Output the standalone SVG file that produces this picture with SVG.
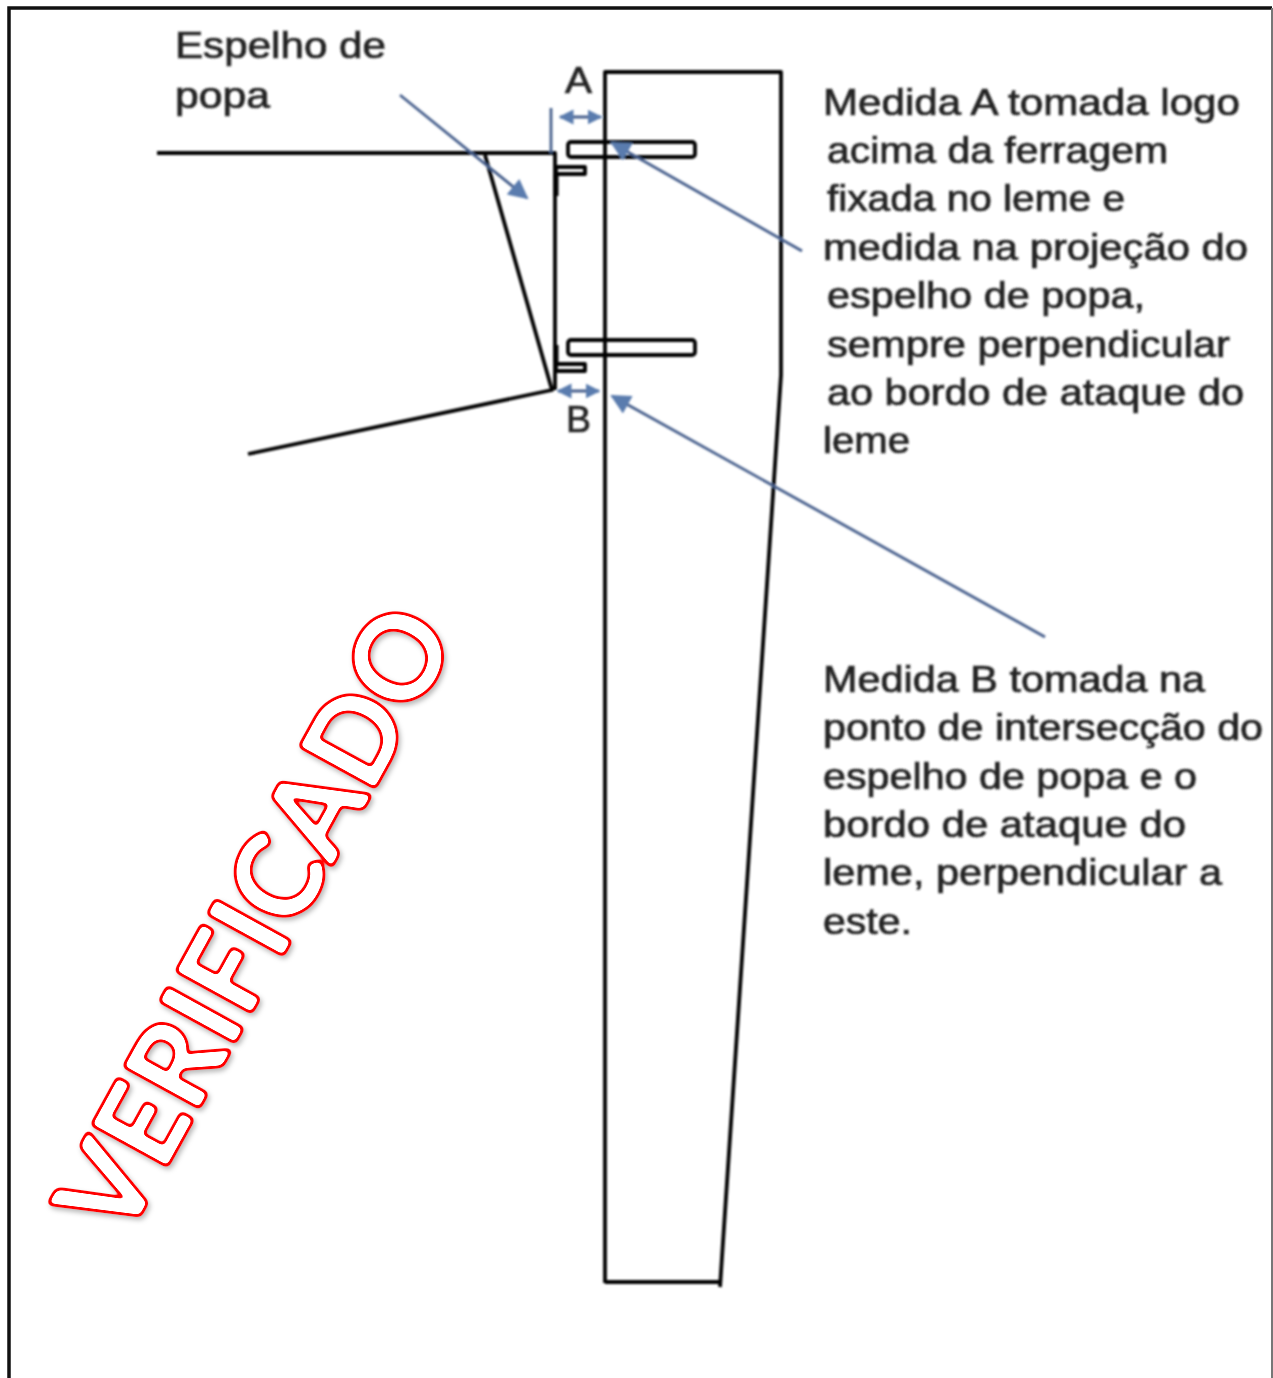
<svg xmlns="http://www.w3.org/2000/svg" width="1273" height="1378" viewBox="0 0 1273 1378">
<style>
.k{fill:none;stroke:#000;stroke-width:3.8;stroke-linejoin:round}
.b{fill:none;stroke:#465f8c;stroke-width:2.8}
.t{font-family:"Liberation Sans",Arial,sans-serif;font-size:37px;fill:#222;stroke:#222;stroke-width:.7}
.s{font-family:"Lato","Open Sans",sans-serif;font-size:118px;font-weight:700;fill:#000}
</style>
<defs>
<filter id="soft" x="-5%" y="-5%" width="110%" height="110%"><feGaussianBlur stdDeviation="0.9"/></filter>
<filter id="stampfx" filterUnits="userSpaceOnUse" x="0" y="560" width="500" height="720" color-interpolation-filters="sRGB">
<feGaussianBlur in="SourceAlpha" stdDeviation="2.5" result="b"/>
<feComponentTransfer in="b" result="inner"><feFuncA type="linear" slope="10" intercept="-5"/></feComponentTransfer>
<feComponentTransfer in="b" result="outer"><feFuncA type="linear" slope="10" intercept="-1.2"/></feComponentTransfer>
<feGaussianBlur in="outer" stdDeviation="2.5" result="sb"/>
<feOffset in="sb" dx="2" dy="3" result="so"/>
<feFlood flood-color="#000" flood-opacity=".28"/><feComposite in2="so" operator="in" result="shadow"/>
<feFlood flood-color="#fff"/><feComposite in2="outer" operator="in" result="white"/>
<feFlood flood-color="#f00"/><feComposite in2="outer" operator="in" result="red"/>
<feComposite in="red" in2="inner" operator="out" result="ring"/>
<feMerge><feMergeNode in="shadow"/><feMergeNode in="white"/><feMergeNode in="ring"/></feMerge>
</filter>
<marker id="ahl" viewBox="0 0 10 10" refX="9" refY="5" markerWidth="24" markerHeight="20" markerUnits="userSpaceOnUse" orient="auto-start-reverse"><path d="M0 0L10 5L0 10Z" fill="#5a7cae"/></marker>
<marker id="ahm" viewBox="0 0 10 10" refX="9" refY="5" markerWidth="15" markerHeight="17" markerUnits="userSpaceOnUse" orient="auto-start-reverse"><path d="M0 0L10 5L0 10Z" fill="#5a7cae"/></marker>
</defs>
<rect width="1273" height="1378" fill="#fff"/>
<g id="frame"><path d="M9 1378V8H1272" fill="none" stroke="#111" stroke-width="3.5"/><path d="M1272 8V1378" fill="none" stroke="#777" stroke-width="2"/></g>
<g filter="url(#soft)">
<g id="rudder"><path class="k" d="M605 1283V72H781V375L720 1287M605 1282H720"/></g>
<g id="hull"><path class="k" d="M157 153H555V390M485 155L552 390L248 454"/><path d="M556 175V196M556 345V362" stroke="#000" stroke-width="5" fill="none"/></g>
<g id="fittings">
<rect class="k" x="568" y="142" width="127" height="15" rx="3"/>
<rect class="k" x="568" y="340" width="127" height="15" rx="3"/>
<rect class="k" x="556" y="167" width="29" height="7"/>
<rect class="k" x="556" y="364" width="29" height="7"/>
</g>
<g id="connectors">
<path class="b" d="M551 108V153"/>
<path class="b" d="M560 117H601" marker-start="url(#ahm)" marker-end="url(#ahm)"/>
<path class="b" d="M558 391H599" marker-start="url(#ahm)" marker-end="url(#ahm)"/>
<path class="b" d="M400 95L527 198" marker-end="url(#ahl)"/>
<path class="b" d="M802 251L612 143" marker-end="url(#ahl)"/>
<path class="b" d="M1045 637L612 396" marker-end="url(#ahl)"/>
</g>
<g id="labels">
<text class="t" x="175" y="58" textLength="211" lengthAdjust="spacingAndGlyphs">Espelho de</text>
<text class="t" x="175" y="108" textLength="95" lengthAdjust="spacingAndGlyphs">popa</text>
<text class="t" x="565" y="93" textLength="27" lengthAdjust="spacingAndGlyphs">A</text>
<text class="t" x="566" y="432" textLength="25" lengthAdjust="spacingAndGlyphs">B</text>
</g>
<g id="note-a">
<text class="t" x="823" y="115" textLength="417" lengthAdjust="spacingAndGlyphs">Medida A tomada logo</text>
<text class="t" x="827" y="163" textLength="341" lengthAdjust="spacingAndGlyphs">acima da ferragem</text>
<text class="t" x="827" y="211" textLength="298" lengthAdjust="spacingAndGlyphs">fixada no leme e</text>
<text class="t" x="823" y="260" textLength="425" lengthAdjust="spacingAndGlyphs">medida na projeção do</text>
<text class="t" x="827" y="308" textLength="318" lengthAdjust="spacingAndGlyphs">espelho de popa,</text>
<text class="t" x="827" y="357" textLength="403" lengthAdjust="spacingAndGlyphs">sempre perpendicular</text>
<text class="t" x="827" y="405" textLength="417" lengthAdjust="spacingAndGlyphs">ao bordo de ataque do</text>
<text class="t" x="823" y="453" textLength="87" lengthAdjust="spacingAndGlyphs">leme</text>
</g>
<g id="note-b">
<text class="t" x="823" y="692" textLength="382" lengthAdjust="spacingAndGlyphs">Medida B tomada na</text>
<text class="t" x="823" y="740" textLength="440" lengthAdjust="spacingAndGlyphs">ponto de intersecção do</text>
<text class="t" x="823" y="789" textLength="374" lengthAdjust="spacingAndGlyphs">espelho de popa e o</text>
<text class="t" x="823" y="837" textLength="363" lengthAdjust="spacingAndGlyphs">bordo de ataque do</text>
<text class="t" x="823" y="885" textLength="399" lengthAdjust="spacingAndGlyphs">leme, perpendicular a</text>
<text class="t" x="823" y="934" textLength="89" lengthAdjust="spacingAndGlyphs">este.</text>
</g>
</g>
<g id="stamp" filter="url(#stampfx)"><text class="s" transform="translate(124 1244) rotate(-61.2)" textLength="693" lengthAdjust="spacingAndGlyphs">VERIFICADO</text></g>
</svg>
